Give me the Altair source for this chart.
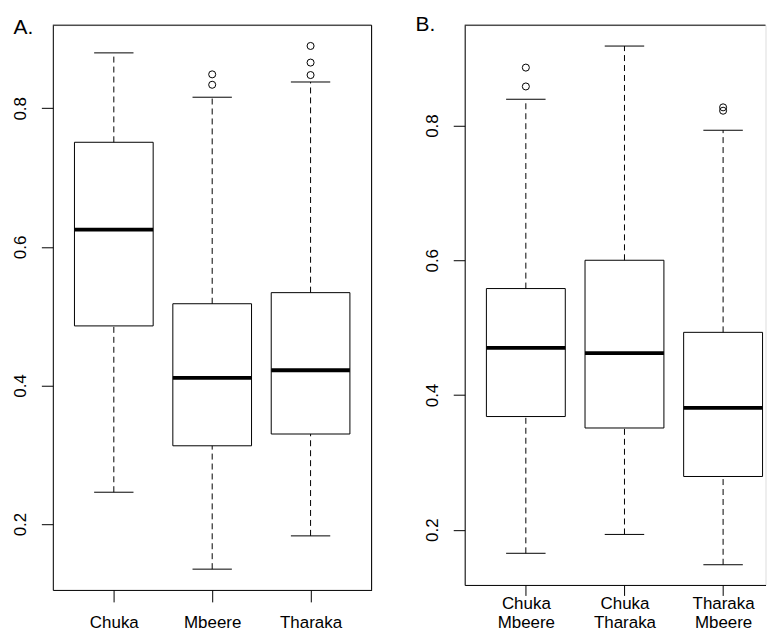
import json
import altair as alt
import pandas as pd

# ---- Panel A data ----
a_groups = ["Chuka", "Mbeere", "Tharaka"]
a_lower = [0.246, 0.135, 0.183]
a_q1 = [0.486, 0.313, 0.330]
a_median = [0.625, 0.411, 0.422]
a_q3 = [0.751, 0.518, 0.534]
a_upper = [0.880, 0.816, 0.838]
a_out_group = ["Mbeere", "Mbeere", "Tharaka", "Tharaka", "Tharaka"]
a_out_value = [0.849, 0.834, 0.890, 0.866, 0.848]

# ---- Panel B data ----
b_groups = ["Chuka|Mbeere", "Chuka|Tharaka", "Tharaka|Mbeere"]
b_lower = [0.165, 0.193, 0.148]
b_q1 = [0.368, 0.351, 0.279]
b_median = [0.470, 0.462, 0.381]
b_q3 = [0.558, 0.600, 0.493]
b_upper = [0.839, 0.918, 0.793]
b_out_group = ["Chuka|Mbeere", "Chuka|Mbeere", "Tharaka|Mbeere", "Tharaka|Mbeere"]
b_out_value = [0.886, 0.858, 0.827, 0.822]

y_ticks = [0.2, 0.4, 0.6, 0.8]
FONT = "Liberation Sans"


def panel(groups, lower, q1, med, q3, upper, out_g, out_v, ydom, xdom,
          width, height, label, label_x, label_y, xtick, xlab_pad, xlab_lh,
          right_border):
    pos = list(range(1, len(groups) + 1))
    df = pd.DataFrame({"group": groups, "pos": pos, "lower": lower, "q1": q1,
                       "median": med, "q3": q3, "upper": upper})
    df["left"] = df["pos"] - 0.4
    df["right"] = df["pos"] + 0.4
    df["capl"] = df["pos"] - 0.2
    df["capr"] = df["pos"] + 0.2
    pmap = dict(zip(groups, pos))
    odf = pd.DataFrame({"group": out_g, "value": out_v})
    odf["pos"] = odf["group"].map(pmap)

    xs = alt.Scale(domain=xdom, nice=False, zero=False)
    ys = alt.Scale(domain=ydom, nice=False, zero=False)
    label_expr = "split(" + json.dumps(groups) + "[datum.value - 1], '|')"

    x_axis = alt.Axis(values=pos, labelExpr=label_expr, title=None, grid=False,
                      tickSize=xtick, tickColor="black", tickWidth=1,
                      domain=True, domainColor="black", domainWidth=1,
                      labelFont=FONT, labelFontSize=17, labelColor="black",
                      labelBaseline="alphabetic", labelPadding=xlab_pad,
                      labelLineHeight=xlab_lh, labelFlush=False, labelOverlap=False)
    y_axis = alt.Axis(values=y_ticks, format=".1f", title=None, grid=False,
                      tickSize=11.5, tickColor="black", tickWidth=1,
                      domain=True, domainColor="black", domainWidth=1,
                      labelFont=FONT, labelFontSize=17, labelColor="black",
                      labelAngle=270, labelAlign="center",
                      labelBaseline="alphabetic", labelPadding=15.5,
                      labelFlush=False, labelOverlap=False)

    def X(f):
        return alt.X(f, scale=xs, axis=x_axis)

    def Y(f):
        return alt.Y(f, scale=ys, axis=y_axis)

    base = alt.Chart(df)
    box = base.mark_rect(fill="white", stroke="black", strokeWidth=1).encode(
        x=X("left:Q"), x2="right:Q", y=Y("q1:Q"), y2="q3:Q")
    wh_up = base.mark_rule(color="black", strokeWidth=1, strokeDash=[6, 4]).encode(
        x=X("pos:Q"), y=Y("q3:Q"), y2="upper:Q")
    wh_lo = base.mark_rule(color="black", strokeWidth=1, strokeDash=[6, 4]).encode(
        x=X("pos:Q"), y=Y("lower:Q"), y2="q1:Q")
    cap_up = base.mark_rule(color="black", strokeWidth=1).encode(
        x=X("capl:Q"), x2="capr:Q", y=Y("upper:Q"))
    cap_lo = base.mark_rule(color="black", strokeWidth=1).encode(
        x=X("capl:Q"), x2="capr:Q", y=Y("lower:Q"))
    median = base.mark_rule(color="black", strokeWidth=3.8).encode(
        x=X("left:Q"), x2="right:Q", y=Y("median:Q"))
    outl = alt.Chart(odf).mark_point(shape="circle", filled=False, size=50,
                                     color="black", strokeWidth=1, opacity=1).encode(
        x=X("pos:Q"), y=Y("value:Q"))

    tdf = pd.DataFrame({"t": [label]})
    top = alt.Chart(tdf).mark_rule(color="black", strokeWidth=1).encode(
        x=alt.value(0), x2=alt.value(width), y=alt.value(0))
    spacer = alt.Chart(tdf).mark_rule(strokeOpacity=0).encode(
        x=alt.value(0), x2=alt.value(1), y=alt.value(-15))
    title = alt.Chart(tdf).mark_text(font=FONT, fontSize=21, align="left",
                                     baseline="alphabetic", color="black").encode(
        x=alt.value(label_x), y=alt.value(label_y), text="t:N")
    layers = [box, wh_up, wh_lo, cap_up, cap_lo, median, outl, top, spacer, title]
    if right_border:
        layers.append(alt.Chart(tdf).mark_rule(color="black", strokeWidth=1).encode(
            x=alt.value(width), y=alt.value(0), y2=alt.value(height)))
    return alt.layer(*layers).properties(width=width, height=height)


pa = panel(a_groups, a_lower, a_q1, a_median, a_q3, a_upper, a_out_group,
           a_out_value, [0.105, 0.920], [0.38, 3.62], 320, 567, "A.",
           -39.4, 8.8, 12, 25.5, 19, True)
pb = panel(b_groups, b_lower, b_q1, b_median, b_q3, b_upper, b_out_group,
           b_out_value, [0.118, 0.949], [0.38, 3.43], 302, 562, "B.",
           -49.3, 5.5, 10.5, 13, 19, False)

chart = alt.hconcat(pa, pb, spacing=42.5).properties(
    padding={"left": 3, "top": 0, "right": 0, "bottom": 0}
).configure_view(stroke="transparent", strokeWidth=0).configure(background="white")

chart.save("out.html", embed_options={"renderer": "svg", "actions": False})
